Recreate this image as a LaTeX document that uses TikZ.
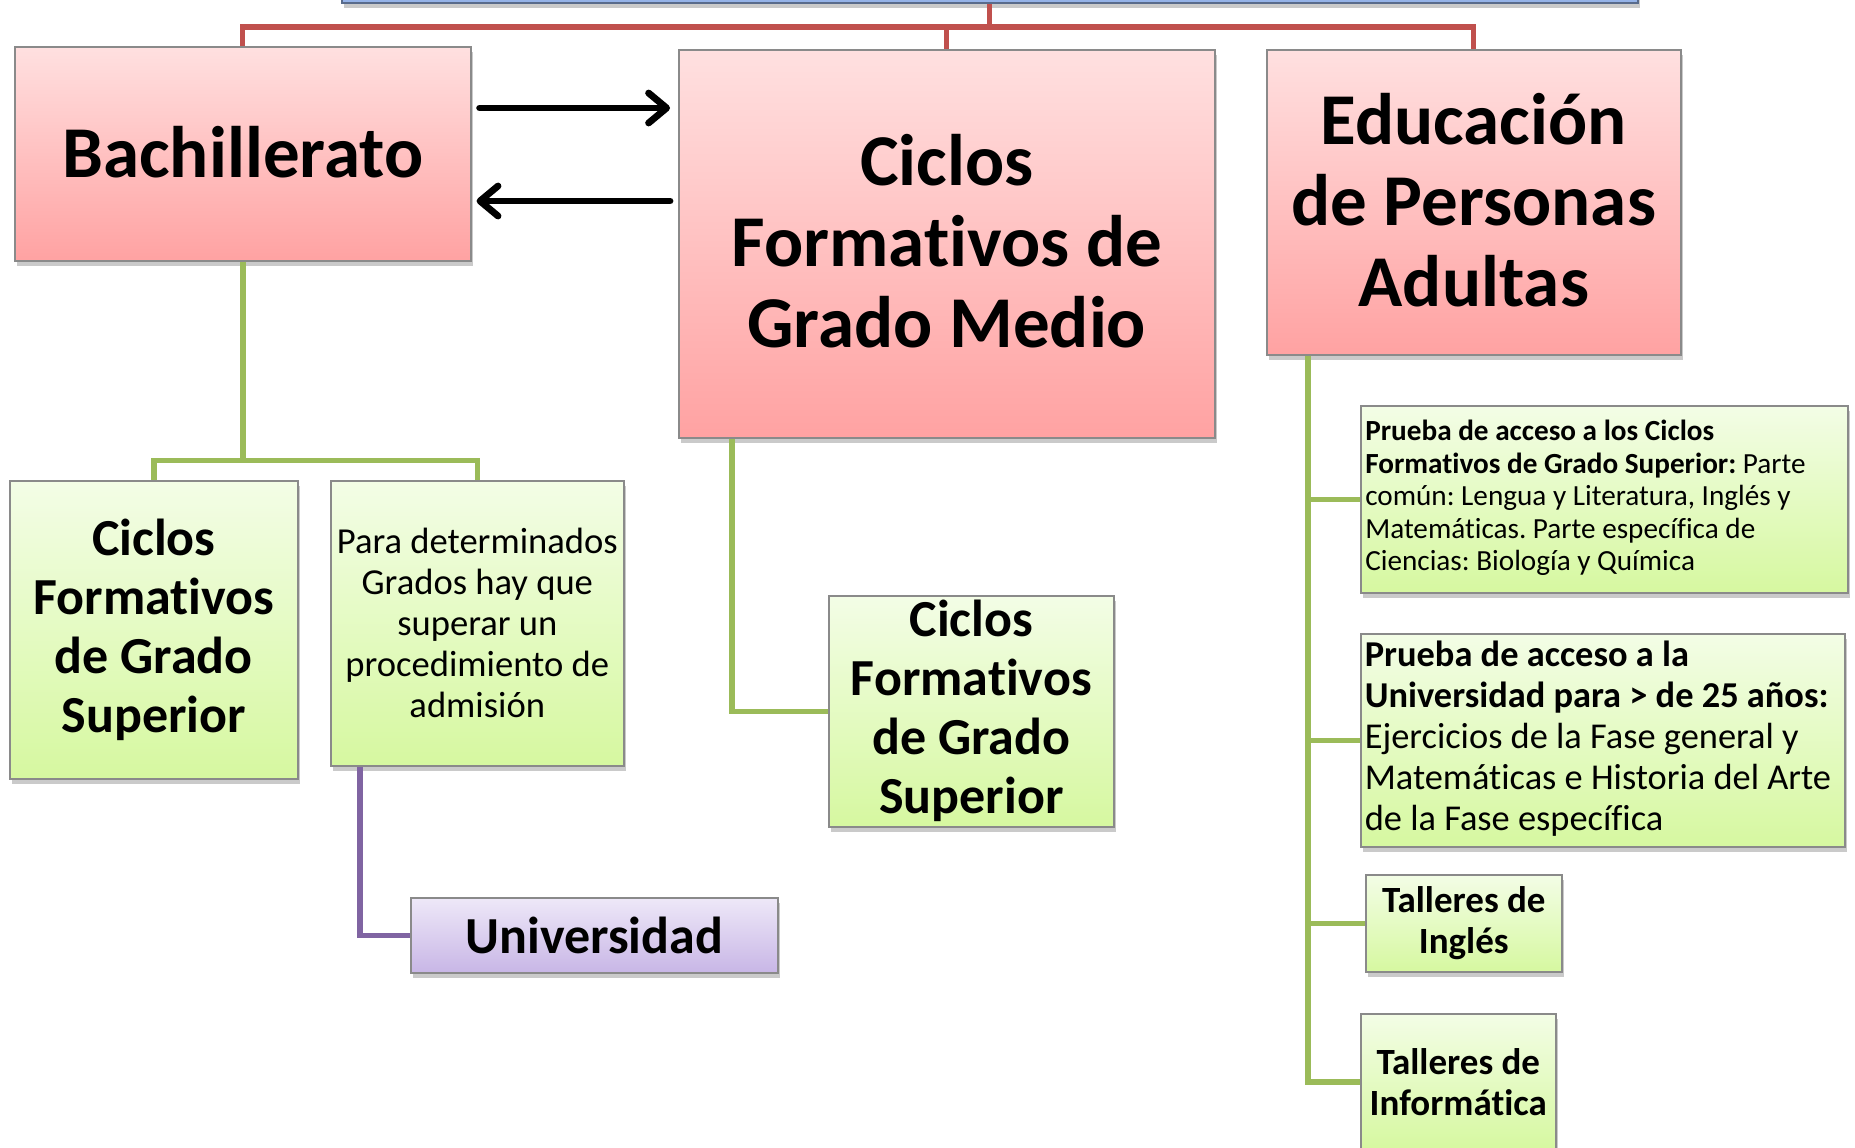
\documentclass[tikz,border=0pt]{standalone}
\usepackage{fontspec}
\setmainfont{Carlito}[Ligatures=NoCommon]
\usetikzlibrary{arrows.meta,shadows,calc}
\frenchspacing
\definecolor{pinkT}{HTML}{FFE0E0}
\definecolor{pinkB}{HTML}{FFA2A2}
\definecolor{greenT}{HTML}{F3FDE6}
\definecolor{greenB}{HTML}{D6F8A0}
\definecolor{purpT}{HTML}{EEE8F8}
\definecolor{purpB}{HTML}{C8B6E6}
\definecolor{blueF}{HTML}{95B3E8}
\definecolor{redL}{HTML}{C0504D}
\definecolor{greenL}{HTML}{9BBB59}
\definecolor{purpL}{HTML}{8064A2}
\definecolor{edgeG}{HTML}{8A8A8A}
\newcommand{\leftblock}[2]{\makebox[#1][l]{\begin{tabular}{@{}l@{}}#2\end{tabular}}}
\tikzset{
  boxbase/.style={draw=edgeG, line width=0.8pt, anchor=north west, inner sep=2pt, align=center,
    drop shadow={shadow xshift=1pt, shadow yshift=-2.5pt, opacity=0.35, fill=black!60}},
  pinkbox/.style={boxbase, top color=pinkT, bottom color=pinkB},
  greenbox/.style={boxbase, top color=greenT, bottom color=greenB},
  purpbox/.style={boxbase, top color=purpT, bottom color=purpB},
  bluebox/.style={draw=blueF!60!black, line width=0.8pt, fill=blueF, anchor=south west,
    drop shadow={shadow xshift=1pt, shadow yshift=-2.5pt, opacity=0.35, fill=black!60}},
  redline/.style={draw=redL, line width=2.6pt},
  grnline/.style={draw=greenL, line width=2.8pt},
  purline/.style={draw=purpL, line width=2.6pt},
  bigarrow/.style={line width=3.4pt, line cap=round,
    -{Straight Barb[length=9pt, width=15pt, line cap=round, line join=round]}},
  hugefont/.style={font=\fontsize{36.5}{40.5}\selectfont\bfseries},
  midfont/.style={font=\fontsize{26}{29.5}\selectfont\bfseries},
}
\begin{document}
\begin{tikzpicture}[x=0.5pt,y=-0.5pt]
\useasboundingbox (0,0) rectangle (1855,1147);
% top blue box (mostly off-page)
\node[bluebox, minimum width=648pt, minimum height=20pt] (top) at (341,4) {};
% level 1
\node[pinkbox, hugefont, minimum width=228pt, minimum height=107pt] (bach) at (14,46) {\raisebox{2pt}{Bachillerato}};
\node[pinkbox, hugefont, minimum width=268pt, minimum height=194pt] (cgm) at (678,49) {\raisebox{2.5pt}{Ciclos}\\\raisebox{2.5pt}{Formativos de}\\\raisebox{2.5pt}{Grado Medio}};
\node[pinkbox, hugefont, minimum width=207pt, minimum height=152.5pt] (epa) at (1266,49) {\raisebox{2pt}{Educación}\\\raisebox{2pt}{de Personas}\\\raisebox{2pt}{Adultas}};
% level 2
\node[greenbox, midfont, minimum width=144pt, minimum height=149pt] (cfgs1) at (9,480) {Ciclos\\Formativos\\de Grado\\Superior};
\node[greenbox, font=\fontsize{18.3}{20.5}\selectfont, minimum width=146.5pt, minimum height=142.5pt] (para) at (330,480) {Para determinados\\Grados hay que\\superar un\\procedimiento de\\admisión};
\node[purpbox, midfont, minimum width=183.5pt, minimum height=37.5pt] (univ) at (410,897) {Universidad};
\node[greenbox, midfont, minimum width=142.5pt, minimum height=115.5pt] (cfgs2) at (828,595) {Ciclos\\Formativos\\de Grado\\Superior};
\node[greenbox, font=\fontsize{14.6}{16.2}\selectfont, minimum width=243.5pt, minimum height=93.5pt] (pr1) at (1360,405) {\leftblock{239pt}{\textbf{Prueba de acceso a los Ciclos}\\\textbf{Formativos de Grado Superior:} Parte\\común: Lengua y Literatura, Inglés y\\Matemáticas. Parte específica de\\Ciencias: Biología y Química}};
\node[greenbox, font=\fontsize{18.2}{20.5}\selectfont, minimum width=242pt, minimum height=104.5pt] (pr2) at (1360,633) {\leftblock{238pt}{\textbf{Prueba de acceso a la}\\\textbf{Universidad para > de 25 años:}\\Ejercicios de la Fase general y\\Matemáticas e Historia del Arte\\de la Fase específica}};
\node[greenbox, font=\fontsize{18.5}{20.5}\selectfont\bfseries, minimum width=98pt, minimum height=48.5pt] (ing) at (1365,874) {Talleres de\\Inglés};
\node[greenbox, font=\fontsize{18.5}{20.5}\selectfont\bfseries, minimum width=97.5pt, minimum height=68pt] (inf) at (1360,1013) {Talleres de\\Informática};
% red connectors
\draw[redline] (top.south) -- ++(0,23) -| (bach.north);
\draw[redline] (top.south) -- ++(0,23) -| (cgm.north);
\draw[redline] (top.south) -- ++(0,23) -| (epa.north);
% green from Bachillerato
\draw[grnline] (bach.south) -- ++(0,199) -| (cfgs1.north);
\draw[grnline] (bach.south) -- ++(0,199) -| (para.north);
% purple to Universidad
\draw[purline] ($(para.south west)+(30,0)$) |- (univ.west);
% green from CGM
\draw[grnline] ($(cgm.south west)+(54,0)$) |- (cfgs2.west);
% green from EPA
\coordinate (ej) at ($(epa.south west)+(42,0)$);
\draw[grnline] (ej) |- (inf.west);
\draw[grnline] (ej) |- (pr1.west);
\draw[grnline] (ej) |- (pr2.west);
\draw[grnline] (ej) |- (ing.west);
% arrows between Bachillerato and CGM
\draw[bigarrow] ($(bach.north east)+(8,62)$) -- ($(cgm.north west)+(-8,59)$);
\draw[bigarrow] ($(cgm.north west)+(-8,152)$) -- ($(bach.north east)+(5,155)$);
\end{tikzpicture}
\end{document}
